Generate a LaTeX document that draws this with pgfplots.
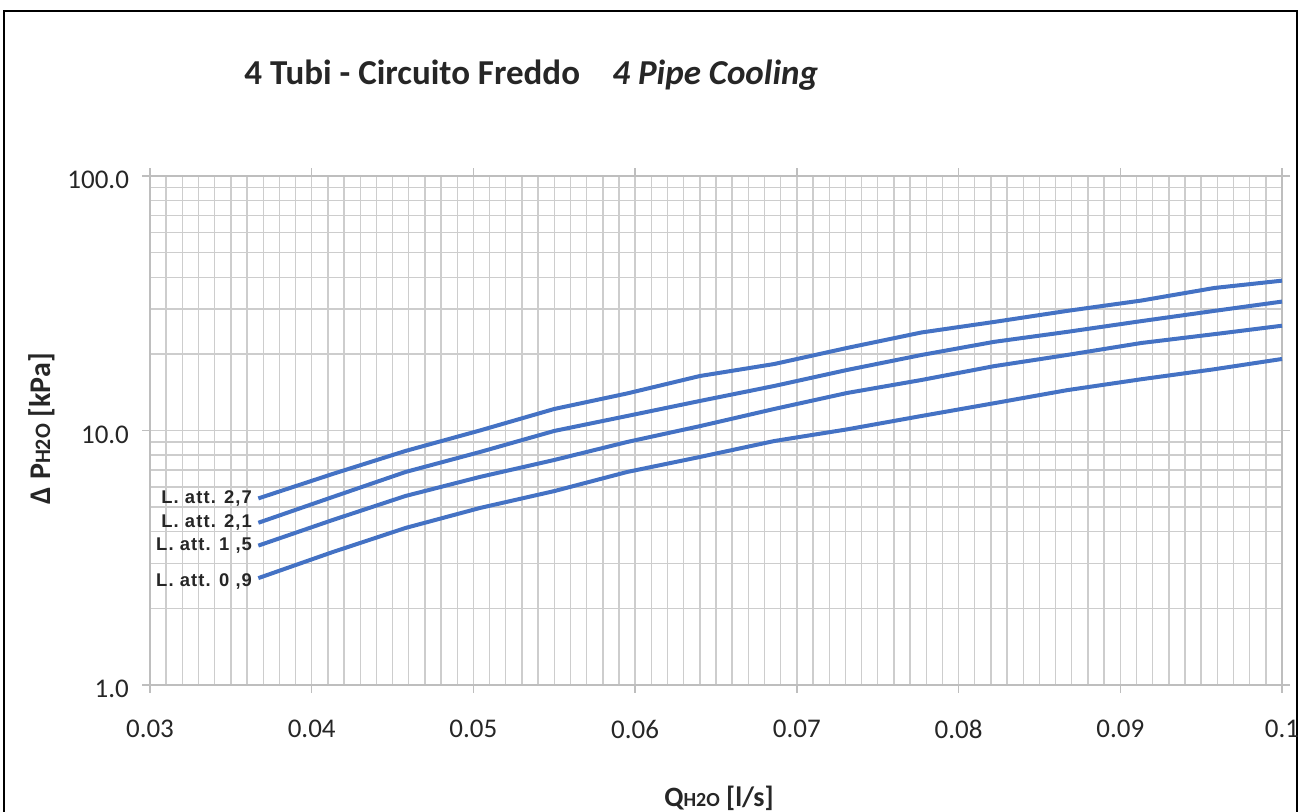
\documentclass[border=0pt]{standalone}
\usepackage{fontspec}
\setmainfont{Carlito}
\newfontfamily\arialb[LetterSpace=6]{Liberation Sans}
\usepackage{pgfplots}
\pgfplotsset{compat=1.18}
\definecolor{curve}{RGB}{68,114,196}
\definecolor{gridc}{RGB}{205,205,205}
\definecolor{axc}{RGB}{190,190,190}
\definecolor{txt}{RGB}{38,38,38}

\pgfplotstableread{
x      a      b      c      d
0.0367 5.41   4.34   3.53   2.63
0.0413 6.75   5.48   4.45   3.33
0.0458 8.31   6.87   5.53   4.14
0.0504 10.0   8.23   6.57   4.96
0.0550 12.15  9.96   7.66   5.78
0.0595 13.98  11.4   9.01   6.87
0.0640 16.37  13.06  10.4   7.87
0.0686 18.25  14.96  12.15  9.09
0.0731 21.1   17.29  14.04  10.1
0.0777 24.27  19.8   15.79  11.4
0.0822 26.7   22.3   17.9   12.8
0.0867 29.5   24.4   19.8   14.4
0.0913 32.4   26.9   22.07  15.9
0.0958 36.3   29.5   23.9   17.4
0.1000 38.8   32.1   25.8   19.1
}\datatable

\begin{document}
\begin{tikzpicture}
\useasboundingbox (0pt,0pt) rectangle (650pt,406pt);
\draw[black, line width=0.7pt] (2pt,-5pt) -- (2pt,400.5pt) -- (648.5pt,400.5pt) -- (648.5pt,-5pt);
\begin{axis}[
  at={(75pt,63.5pt)}, anchor=south west,
  scale only axis, width=566pt, height=254.5pt,
  xmin=0.03, xmax=0.1, ymode=log, ymin=1, ymax=100,
  xtick={0.03,0.04,0.05,0.06,0.07,0.08,0.09,0.1},
  xticklabels={0.03,0.04,0.05,0.06,0.07,0.08,0.09,0.1},
  minor xtick={0.031,0.032,0.033,0.034,0.035,0.036,0.037,0.038,0.039,
               0.041,0.042,0.043,0.044,0.045,0.046,0.047,0.048,0.049,
               0.051,0.052,0.053,0.054,0.055,0.056,0.057,0.058,0.059,
               0.061,0.062,0.063,0.064,0.065,0.066,0.067,0.068,0.069,
               0.071,0.072,0.073,0.074,0.075,0.076,0.077,0.078,0.079,
               0.081,0.082,0.083,0.084,0.085,0.086,0.087,0.088,0.089,
               0.091,0.092,0.093,0.094,0.095,0.096,0.097,0.098,0.099},
  ytick={1,10,100}, yticklabels={1.0,10.0,100.0},
  grid=both,
  major grid style={gridc, line width=0.7pt},
  minor grid style={gridc, line width=0.7pt},
  axis line style={axc, line width=0.8pt},
  tick style={axc, line width=0.7pt},
  tick align=outside,
  major tick length=4pt, minor tick length=0pt,
  ticklabel style={font=\fontsize{13.5}{16}\selectfont, text=txt},
  xticklabel style={anchor=north, yshift=-10pt},
  yticklabel style={anchor=east, xshift=-3pt, yshift=-2pt},
  clip=false,
]
\addplot[curve, line width=2pt] table[x=x, y=a] {\datatable};
\addplot[curve, line width=2pt] table[x=x, y=b] {\datatable};
\addplot[curve, line width=2pt] table[x=x, y=c] {\datatable};
\addplot[curve, line width=2pt] table[x=x, y=d] {\datatable};
\node[anchor=east, font=\arialb\bfseries\fontsize{9.2}{10}\selectfont, text=txt, inner sep=0pt] at (axis cs:0.0367,5.41) [xshift=-3pt] {L. att. 2,7};
\node[anchor=east, font=\arialb\bfseries\fontsize{9.2}{10}\selectfont, text=txt, inner sep=0pt] at (axis cs:0.0367,4.34) [xshift=-3pt] {L. att. 2,1};
\node[anchor=east, font=\arialb\bfseries\fontsize{9.2}{10}\selectfont, text=txt, inner sep=0pt] at (axis cs:0.0367,3.53) [xshift=-3pt] {L. att. 1 ,5};
\node[anchor=east, font=\arialb\bfseries\fontsize{9.2}{10}\selectfont, text=txt, inner sep=0pt] at (axis cs:0.0367,2.63) [xshift=-3pt, yshift=-1.5pt] {L. att. 0 ,9};
\end{axis}
\node[anchor=base west, inner sep=0pt, text=txt, font=\fontsize{17.5}{20}\selectfont\bfseries] at (122pt,363.5pt) {4 Tubi - Circuito Freddo};
\node[anchor=base west, inner sep=0pt, text=txt, font=\fontsize{17.5}{20}\selectfont\bfseries\itshape] at (306pt,363.5pt) {4 Pipe Cooling};
\node[anchor=base, inner sep=0pt, text=txt, font=\fontsize{14}{16}\selectfont\bfseries] at (359.5pt,2.7pt) {Q{\fontsize{10}{12}\selectfont H2O} [l/s]};
\node[anchor=base, rotate=90, inner sep=0pt, text=txt, font=\fontsize{15}{18}\selectfont\bfseries] at (25pt,191.7pt) {Δ P{\fontsize{11}{12}\selectfont H2O} [kPa]};
\end{tikzpicture}
\end{document}
